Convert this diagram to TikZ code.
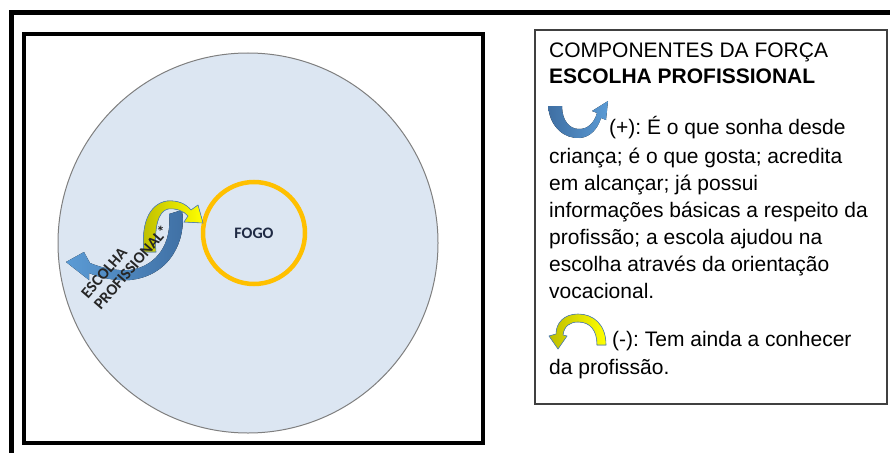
\documentclass[tikz,border=0pt]{standalone}
\usepackage{fontspec}
\setmainfont{Liberation Sans}
\newfontfamily\calibrifont{Carlito}

\definecolor{campofill}{HTML}{DCE6F2}
\definecolor{campoline}{HTML}{7F7F7F}
\definecolor{fogoline}{HTML}{FFC000}
\definecolor{fogotext}{HTML}{1F2A44}
\definecolor{azulclaro}{HTML}{5B9BD5}
\definecolor{azulescuro}{HTML}{3F6FA3}
\definecolor{amareloclaro}{HTML}{FFFF00}
\definecolor{amareloescuro}{HTML}{BDBD00}
\definecolor{contorno}{HTML}{4F81BD}

\begin{document}
\frenchspacing
\begin{tikzpicture}[
		x=1pt, y=-1pt,
		moldura/.style={line width=5pt, black},
		painel/.style={draw=black, line width=3.2pt},
		legenda/.style={draw=black!75, line width=1.1pt},
		campo/.style={circle, draw=campoline, line width=1pt, fill=campofill, minimum size=380pt, inner sep=0pt},
		fogo/.style={circle, draw=fogoline, line width=4.5pt, minimum size=102pt, inner sep=0pt, font=\calibrifont\bfseries\fontsize{16}{19}\selectfont, text=fogotext},
		rotulo/.style={font=\calibrifont\bfseries\fontsize{16}{17}\selectfont, text=black!85, align=left, rotate=49, inner sep=0pt},
		texto/.style={font=\fontsize{21}{27}\selectfont, align=left, inner sep=0pt, anchor=base west},
		setazul/.style={left color=azulclaro, right color=azulescuro, draw=none},
		setamarela/.style={left color=amareloescuro, right color=amareloclaro, draw=contorno, line width=0.6pt},
		]
		\useasboundingbox (0,0) rectangle (890,452);
		\clip (0,0) rectangle (890,452);
		
		% Outer frame (cut at the page edges)
		\draw[moldura] (11,460) -- (11,13) -- (900,13);
		
		% Left panel with the field
		\draw[painel] (24,34) rectangle (483,443);
		\node[campo] (campo) at (248,243) {};
		\node[fogo] (fogo) at (254,233) {FOGO};
		
		% Force arrows
		\fill[setazul] (182,210) .. controls (187,240) and (170,276) .. (130,280) .. controls (112,281) and (98,277) .. (89,273) -- (89,280) -- (66,262) -- (84,252) -- (90,263) .. controls (102,268) and (116,271) .. (130,270) .. controls (158,266) and (172,242) .. (169,214) -- cycle;
		\filldraw[setamarela] (144,252) .. controls (141,226) and (148,204) .. (167,201) .. controls (178,200) and (186,204) .. (191,210) -- (198,205) -- (203,223) -- (184,222) -- (188,216) .. controls (184,211) and (176,208) .. (168,209) .. controls (158,211) and (154,228) .. (156,252) -- cycle;
		\node[rotulo] (escolha) at (125,262) {ESCOLHA\\PROFISSIONAL*};
		
		% Legend panel (multi-line texts sit on the baseline of their last line)
		\draw[legenda] (535,30) rectangle (887,404);
		\node[texto, font=\fontsize{21}{26}\selectfont] (titulo) at (549,83) {COMPONENTES DA FORÇA\\\textbf{ESCOLHA PROFISSIONAL}};
		
		% Legend icons
		\fill[setazul, left color=azulescuro, right color=azulclaro] (548,106) .. controls (550,128) and (565,139) .. (580,138) .. controls (591,137) and (598,128) .. (601,118) -- (606,120) -- (608,101) -- (592,111) -- (597,113) .. controls (594,123) and (588,129) .. (579,129) .. controls (569,129) and (562,120) .. (562,106) -- cycle;
		\filldraw[setamarela] (606,345) .. controls (606,324) and (593,314) .. (578,314) .. controls (564,314) and (556,323) .. (556,334) -- (549,336) -- (558,349) -- (567,336) -- (563,335) .. controls (564,326) and (570,322) .. (578,322) .. controls (590,322) and (597,330) .. (597,345) -- cycle;
		
		% Legend texts
		\node[texto] (maisa) at (609,134) {(+): É o que sonha desde};
		\node[texto] (maisb) at (549,298) {criança; é o que gosta; acredita\\em alcançar; já possui\\informações básicas a respeito da\\profissão; a escola ajudou na\\escolha através da orientação\\vocacional.};
		\node[texto] (menos) at (612,346) {(-): Tem ainda a conhecer};
		\node[texto] (menosb) at (549,374) {da profissão.};
		
	\end{tikzpicture}
\end{document}
